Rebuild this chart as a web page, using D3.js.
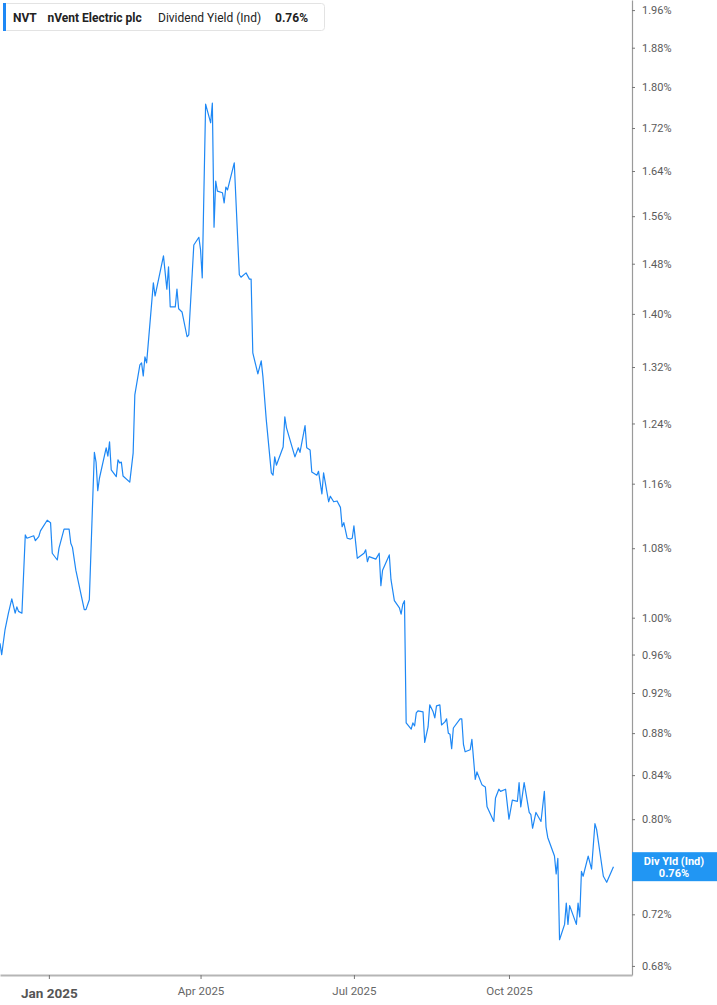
<!DOCTYPE html>
<html><head><meta charset="utf-8">
<script src="https://cdn.jsdelivr.net/npm/d3@7"></script>
<style>
body{margin:0;background:#fff;}
svg{display:block;font-family:Roboto,"Noto Sans",sans-serif;}
</style>
</head><body>
<svg id="chart" width="717" height="1005"></svg>
<script>
const dates = [
"2024-12-03","2024-12-04","2024-12-06","2024-12-08","2024-12-10","2024-12-12","2024-12-13","2024-12-14","2024-12-16","2024-12-18",
"2024-12-19","2024-12-23","2024-12-24","2024-12-26","2024-12-27","2024-12-31","2025-01-02","2025-01-03","2025-01-06","2025-01-07",
"2025-01-10","2025-01-13","2025-01-14","2025-01-15","2025-01-17","2025-01-22","2025-01-23","2025-01-25","2025-01-27","2025-01-28",
"2025-01-29","2025-01-30","2025-01-31","2025-02-04","2025-02-05","2025-02-06","2025-02-07","2025-02-10","2025-02-11","2025-02-12",
"2025-02-13","2025-02-14","2025-02-18","2025-02-20","2025-02-21","2025-02-24","2025-02-25","2025-02-26","2025-02-27","2025-02-28",
"2025-03-04","2025-03-05","2025-03-10","2025-03-12","2025-03-13","2025-03-14","2025-03-17","2025-03-18","2025-03-19","2025-03-21",
"2025-03-24","2025-03-25","2025-03-28","2025-03-31","2025-04-01","2025-04-02","2025-04-04","2025-04-07","2025-04-08","2025-04-09",
"2025-04-10","2025-04-11","2025-04-14","2025-04-15","2025-04-16","2025-04-17","2025-04-21","2025-04-24","2025-04-25","2025-04-28",
"2025-04-30","2025-05-01","2025-05-02","2025-05-05","2025-05-07","2025-05-08","2025-05-10","2025-05-13","2025-05-14","2025-05-15",
"2025-05-16","2025-05-20","2025-05-21","2025-05-22","2025-05-27","2025-05-29","2025-05-30","2025-06-02","2025-06-03","2025-06-05",
"2025-06-06","2025-06-09","2025-06-10","2025-06-12","2025-06-13","2025-06-16","2025-06-17","2025-06-19","2025-06-21","2025-06-23",
"2025-06-24","2025-06-25","2025-06-27","2025-06-29","2025-06-30","2025-07-01","2025-07-03","2025-07-07","2025-07-08","2025-07-09",
"2025-07-10","2025-07-14","2025-07-16","2025-07-17","2025-07-18","2025-07-22","2025-07-23","2025-07-25","2025-07-28","2025-07-29",
"2025-07-30","2025-07-31","2025-08-01","2025-08-04","2025-08-05","2025-08-06","2025-08-07","2025-08-08","2025-08-11","2025-08-12",
"2025-08-14","2025-08-15","2025-08-17","2025-08-18","2025-08-19","2025-08-21","2025-08-22","2025-08-24","2025-08-25","2025-08-26",
"2025-08-27","2025-08-28","2025-08-29","2025-09-02","2025-09-03","2025-09-04","2025-09-05","2025-09-08","2025-09-09","2025-09-11",
"2025-09-12","2025-09-15","2025-09-16","2025-09-17","2025-09-18","2025-09-22","2025-09-23","2025-09-25","2025-09-26","2025-09-29",
"2025-10-01","2025-10-03","2025-10-06","2025-10-07","2025-10-08","2025-10-10","2025-10-13","2025-10-14","2025-10-15","2025-10-17",
"2025-10-20","2025-10-22","2025-10-23","2025-10-24","2025-10-28","2025-10-29","2025-10-30","2025-10-31","2025-11-03","2025-11-04",
"2025-11-05","2025-11-06","2025-11-10","2025-11-11","2025-11-12","2025-11-13","2025-11-14","2025-11-17","2025-11-19","2025-11-21",
"2025-11-22","2025-11-26","2025-11-28","2025-12-02"
];
const values = [
0.972,0.960,0.987,1.005,1.021,1.005,1.012,1.007,1.005,1.096,
1.092,1.095,1.089,1.094,1.101,1.114,1.111,1.074,1.066,1.080,
1.103,1.103,1.086,1.081,1.054,1.009,1.009,1.020,1.139,1.201,
1.188,1.151,1.167,1.207,1.196,1.215,1.178,1.169,1.191,1.187,
1.188,1.170,1.162,1.200,1.280,1.323,1.326,1.307,1.335,1.326,
1.449,1.428,1.493,1.439,1.475,1.411,1.411,1.439,1.408,1.403,
1.365,1.368,1.511,1.524,1.503,1.457,1.766,1.730,1.768,1.541,
1.622,1.604,1.601,1.583,1.611,1.606,1.655,1.462,1.458,1.465,
1.455,1.455,1.341,1.310,1.329,1.306,1.245,1.174,1.171,1.195,
1.184,1.208,1.249,1.234,1.195,1.207,1.201,1.237,1.207,1.204,
1.175,1.171,1.176,1.147,1.174,1.137,1.144,1.137,1.138,1.130,
1.106,1.111,1.092,1.091,1.092,1.107,1.068,1.074,1.078,1.064,
1.070,1.067,1.074,1.036,1.054,1.072,1.043,1.019,1.011,1.004,
1.015,1.019,0.890,0.884,0.890,0.887,0.900,0.902,0.901,0.871,
0.886,0.908,0.901,0.895,0.907,0.908,0.888,0.891,0.894,0.880,
0.879,0.865,0.885,0.894,0.894,0.869,0.862,0.864,0.874,0.836,
0.843,0.831,0.830,0.829,0.811,0.798,0.819,0.827,0.825,0.827,
0.800,0.817,0.816,0.833,0.811,0.833,0.806,0.804,0.792,0.806,
0.798,0.825,0.793,0.784,0.768,0.753,0.766,0.700,0.712,0.729,
0.712,0.727,0.712,0.729,0.718,0.755,0.751,0.768,0.757,0.796,
0.791,0.751,0.746,0.759
];
const yTicks = [0.68,0.72,0.76,0.80,0.84,0.88,0.92,0.96,1.00,1.08,1.16,1.24,1.32,1.40,1.48,1.56,1.64,1.72,1.80,1.88,1.96];
const xTickDates = ["2025-01-01","2025-04-01","2025-07-01","2025-10-01"];
const xTickLabels = ["Jan 2025","Apr 2025","Jul 2025","Oct 2025"];
const xDomain = ["2024-12-03","2025-12-13"];
const yDomain = [0.6732, 1.982];
const ticker = "NVT", company = "nVent Electric plc", metric = "Dividend Yield (Ind)", lastLabel = "0.76%";
const badgeTitle = "Div Yld (Ind)";

const parse = d3.utcParse("%Y-%m-%d");
const data = dates.map((d,i)=>({date:parse(d), value:values[i]}));
const svg = d3.select("#chart");
const plotW = 632, plotH = 975;
const lineColor = "#1e88f5";
const lastValue = values[values.length-1];

const x = d3.scaleUtc().domain(xDomain.map(parse)).range([0, plotW]);
const y = d3.scaleLog().domain(yDomain).range([plotH, 0]);

// line
svg.append("defs").append("clipPath").attr("id","clip")
  .append("rect").attr("x",0).attr("y",0).attr("width",plotW).attr("height",plotH);
svg.append("path").datum(data)
  .attr("clip-path","url(#clip)")
  .attr("fill","none").attr("stroke",lineColor).attr("stroke-width",1.2)
  .attr("stroke-linejoin","round")
  .attr("d", d3.line().x(d=>x(d.date)).y(d=>y(d.value)));

// right axis (the tick label hidden under the last-value badge is left blank)
const yAx = svg.append("g").attr("transform",`translate(${plotW},0)`)
  .call(d3.axisRight(y).tickValues(yTicks)
    .tickFormat(d=>Math.abs(d-0.76)<1e-9 ? "" : d.toFixed(2)+"%")
    .tickSize(3).tickSizeOuter(0).tickPadding(7));
yAx.select(".domain").attr("stroke","#9a9a9a").attr("stroke-width",1.2);
yAx.selectAll(".tick line").attr("stroke","#777");
yAx.selectAll(".tick text").attr("fill","#5a5a5a").style("font-size","11px").style("font-family","Roboto");

// bottom axis
const xAx = svg.append("g").attr("transform",`translate(0,${plotH})`)
  .call(d3.axisBottom(x).tickValues(xTickDates.map(parse)).tickFormat((d,i)=>xTickLabels[i]).tickSize(4).tickSizeOuter(0).tickPadding(6));
xAx.select(".domain").attr("stroke","#b5b5b5").attr("stroke-width",2);
xAx.selectAll(".tick line").attr("stroke","#777");
xAx.selectAll(".tick text").attr("fill","#666").style("font-size","11.5px").style("font-family","Roboto")
  .attr("dy","0.85em");
xAx.selectAll(".tick text").filter((d,i)=>i===0)
  .style("font-size","13.5px").style("font-weight","bold").attr("fill","#555").attr("dy","0.95em");

// last value badge
const lastY = y(lastValue);
const badge = svg.append("g");
badge.append("rect").attr("x",plotW).attr("y",lastY-14.5).attr("width",717-plotW).attr("height",29).attr("fill","#2196f3");
badge.append("text").attr("x",plotW+42).attr("y",lastY-2).attr("text-anchor","middle")
  .attr("fill","#fff").style("font-size","11px").style("font-weight","bold").text(badgeTitle);
badge.append("text").attr("x",plotW+42).attr("y",lastY+10).attr("text-anchor","middle")
  .attr("fill","#fff").style("font-size","11px").style("font-weight","bold").text(lastLabel);

// header legend
const hdr = svg.append("g");
hdr.append("rect").attr("x",3.5).attr("y",3.5).attr("width",321).attr("height",27).attr("rx",3)
  .attr("fill","#fff").attr("stroke","#e3e3e3");
hdr.append("rect").attr("x",3).attr("y",3).attr("width",3).attr("height",28).attr("fill",lineColor);
const ht = hdr.append("text").attr("y",21.5).style("font-size","12px").attr("fill","#222");
ht.append("tspan").attr("x",13).style("font-weight","bold").text(ticker);
ht.append("tspan").attr("x",47.5).style("font-weight","bold").text(company);
ht.append("tspan").attr("x",158).text(metric);
ht.append("tspan").attr("x",275).style("font-weight","bold").text(lastLabel);
</script>
</body></html>
